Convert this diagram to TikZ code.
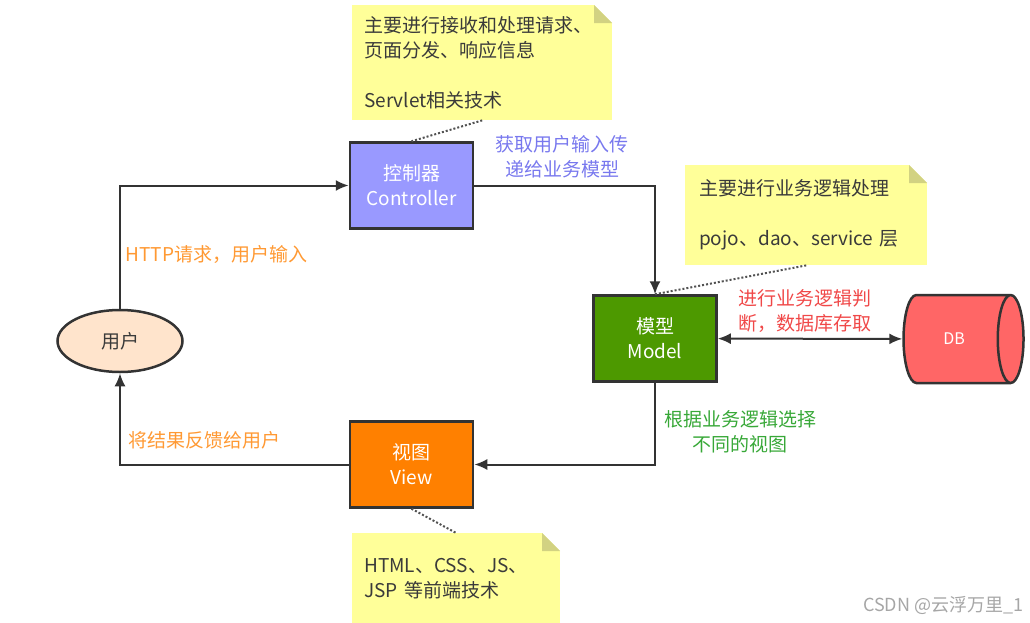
\documentclass[tikz,border=0pt]{standalone}
\usepackage{fontspec}
\setmainfont{Noto Sans CJK SC}
\usepackage{tikz}
\usetikzlibrary{arrows.meta,positioning,shapes.geometric}
\definecolor{edge}{HTML}{333333}
\definecolor{txt}{HTML}{3A3A3A}
\definecolor{ctrlc}{HTML}{9999FF}
\definecolor{modelc}{HTML}{4D9900}
\definecolor{viewc}{HTML}{FF8000}
\definecolor{userc}{HTML}{FFE4CC}
\definecolor{dbc}{HTML}{FF6666}
\definecolor{notey}{HTML}{FFFF99}
\definecolor{foldy}{HTML}{D2D282}
\definecolor{lblue}{HTML}{7878EE}
\definecolor{lorange}{HTML}{FF9933}
\definecolor{lred}{HTML}{F04848}
\definecolor{lgreen}{HTML}{38A838}
\newcommand{\tx}{\fontsize{19}{25}\selectfont}
\tikzset{
  mvc/.style={rectangle, draw=edge, line width=2.5pt, fill=#1, text=white, align=center,
              font=\tx, minimum width=123pt, minimum height=86pt},
  notebox/.style={rectangle, fill=notey, anchor=north west, align=left, font=\tx, text=txt,
              inner xsep=12pt, inner ysep=0pt,
              path picture={
                \fill[white] ([xshift=-18pt]path picture bounding box.north east)
                  -- (path picture bounding box.north east)
                  -- ([yshift=-18pt]path picture bounding box.north east) -- cycle;
                \fill[foldy] ([xshift=-18pt]path picture bounding box.north east)
                  -- ([xshift=-18pt,yshift=-18pt]path picture bounding box.north east)
                  -- ([yshift=-18pt]path picture bounding box.north east) -- cycle;}},
  lbl/.style={font=\tx, text=#1, align=center},
  arr/.style={-{Latex[length=13pt,width=11pt]}, line width=2pt, draw=edge},
  dots/.style={line width=2pt, dotted, draw=edge!85},
}
\begin{document}
\begin{tikzpicture}[x=1pt,y=-1pt]
  \useasboundingbox (0,0) rectangle (1030,623);
  \node[ellipse, draw=edge, line width=2.5pt, fill=userc, minimum width=125pt, minimum height=62pt,
        font=\tx, text=txt] (user) at (120,341) {用户};
  \node[mvc=ctrlc] (ctrl) at (411.5,185.5) {控制器\\Controller};
  \node[mvc=modelc] (model) at (655,338.5) {模型\\Model};
  \node[mvc=viewc] (view) at (411.5,464.5) {视图\\View};
  \node[cylinder, draw=edge, line width=2.5pt, fill=dbc, aspect=1.4, minimum width=88pt,
        minimum height=120pt, text=white, font=\fontsize{16}{18}\selectfont] (db) at (954,339) {DB};
  \node[notebox, text width=236pt, minimum height=115pt] (n1) at (352,5)
    {主要进行接收和处理请求、\\页面分发、响应信息\\[25pt]Servlet相关技术};
  \node[notebox, text width=214pt, minimum height=100pt, inner xsep=14pt] (n2) at (685,165)
    {主要进行业务逻辑处理\\[25pt]pojo、dao、service~层};
  \node[notebox, text width=184pt, minimum height=90pt] (n3) at (352,533)
    {HTML、CSS、JS、\\JSP~等前端技术};
  \node[lbl=lblue] (l1) at (562,157) {获取用户输入传\\递给业务模型};
  \node[lbl=lorange, anchor=west] (l2) at (122,254) {HTTP请求，用户输入};
  \node[lbl=lred] (l3) at (805,311) {进行业务逻辑判\\断，数据库存取};
  \node[lbl=lgreen] (l4) at (740,432) {根据业务逻辑选择\\不同的视图};
  \node[lbl=lorange, anchor=west] (l5) at (125,440) {将结果反馈给用户};
  \node[anchor=east, text=black!35, font=\fontsize{18}{20}\selectfont] (wm) at (1027,605) {CSDN @云浮万里\_1};
  \draw[arr] (user) |- (ctrl);
  \draw[arr] (ctrl) -| (model);
  \draw[arr] (model) |- (view);
  \draw[arr] (view) -| (user);
  \draw[arr, {Latex[length=13pt,width=11pt]}-{Latex[length=13pt,width=11pt]}] (model) -- (db);
  \draw[dots] (n1.south) -- (ctrl.north);
  \draw[dots] (n2.south) -- (model.north);
  \draw[dots] (view.south) -- (n3.north);
\end{tikzpicture}
\end{document}
